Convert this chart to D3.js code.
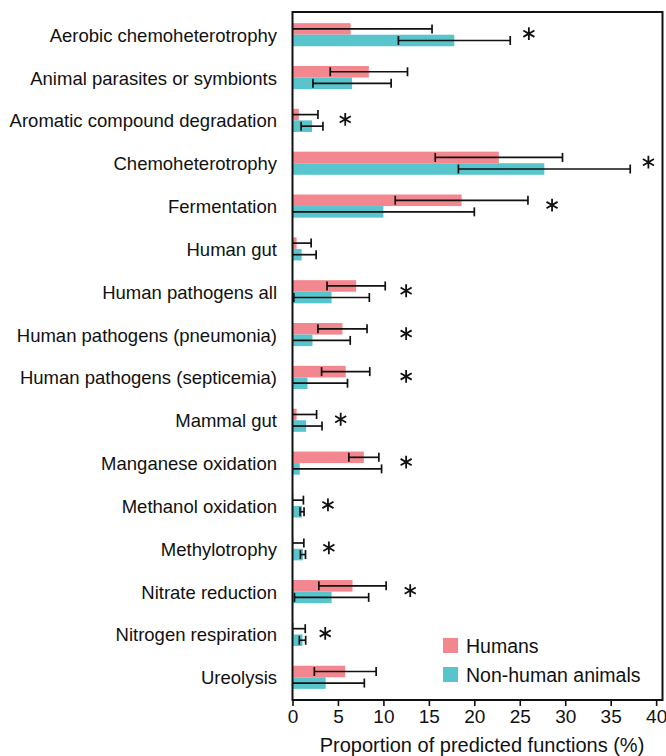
<!DOCTYPE html>
<html>
<head>
<meta charset="utf-8">
<script src="https://cdn.jsdelivr.net/npm/d3@7"></script>
<style>
  body { margin: 0; background: #fff; }
  text { font-family: "Liberation Sans", Arial, sans-serif; fill: #111; }
</style>
</head>
<body>
<svg id="chart" width="666" height="756"></svg>
<script>
var categories = ["Aerobic chemoheterotrophy", "Animal parasites or symbionts", "Aromatic compound degradation",
  "Chemoheterotrophy", "Fermentation", "Human gut", "Human pathogens all", "Human pathogens (pneumonia)",
  "Human pathogens (septicemia)", "Mammal gut", "Manganese oxidation", "Methanol oxidation",
  "Methylotrophy", "Nitrate reduction", "Nitrogen respiration", "Ureolysis"];

var humansMean = [6.4, 8.4, 0.7, 22.7, 18.6, 0.45, 7.0, 5.5, 5.85, 0.45, 7.85, 0.1, 0.1, 6.6, 0.15, 5.8];
var humansSd   = [8.95, 4.25, 2.1, 7.0, 7.3, 1.6, 3.2, 2.7, 2.65, 2.2, 1.65, 1.1, 1.15, 3.7, 1.25, 3.4];
var animalsMean = [17.8, 6.55, 2.15, 27.7, 10.0, 1.0, 4.3, 2.2, 1.65, 1.5, 0.8, 1.05, 1.15, 4.3, 1.1, 3.65];
var animalsSd   = [6.15, 4.3, 1.2, 9.45, 10.0, 1.6, 4.15, 4.15, 4.4, 1.75, 9.0, 0.22, 0.28, 4.08, 0.35, 4.25];

// asterisk positions (x in % units) for significant differences, null = none
var starX = [26.0, null, 5.8, 39.15, 28.55, null, 12.5, 12.5, 12.5, 5.3, 12.5, 3.9, 4.0, 12.95, 3.6, null];

var groups = ["Humans", "Non-human animals"];
var colors = ["#f3878f", "#58c5cd"];
var xTicks = [0, 5, 10, 15, 20, 25, 30, 35, 40];

var svg = d3.select("#chart");
var plotL = 292.5, plotR = 662.5, plotT = 12, plotB = 700;

var x = d3.scaleLinear().domain([0, 40.7]).range([plotL, plotR]);
var y = d3.scaleBand().domain(categories).range([plotT, plotB]).paddingInner(0.46).paddingOuter(0.26);
var sub = d3.scaleBand().domain(groups).range([0, y.bandwidth()]);

var series = [
  {name: groups[0], mean: humansMean, sd: humansSd},
  {name: groups[1], mean: animalsMean, sd: animalsSd}
];

var rows = [];
series.forEach(function(s, si) {
  categories.forEach(function(c, i) {
    rows.push({cat: c, group: s.name, si: si, mean: s.mean[i], sd: s.sd[i]});
  });
});

// bars
svg.append("g").selectAll("rect")
  .data(rows)
  .enter().append("rect")
  .attr("x", x(0))
  .attr("y", function(d) { return y(d.cat) + sub(d.group); })
  .attr("width", function(d) { return x(d.mean) - x(0); })
  .attr("height", sub.bandwidth())
  .attr("fill", function(d) { return colors[d.si]; });

// error bars
var capH = 9;
var eb = svg.append("g").attr("stroke", "#111").attr("stroke-width", 1.7).attr("fill", "none");
rows.forEach(function(d) {
  var cy = y(d.cat) + sub(d.group) + sub.bandwidth() / 2;
  var lo = d.mean - d.sd, hi = d.mean + d.sd;
  var x0 = x(Math.max(0, lo)), x1 = x(hi);
  eb.append("line").attr("x1", x0).attr("x2", x1).attr("y1", cy).attr("y2", cy);
  eb.append("line").attr("x1", x1).attr("x2", x1).attr("y1", cy - capH / 2).attr("y2", cy + capH / 2);
  if (lo > 0) {
    eb.append("line").attr("x1", x0).attr("x2", x0).attr("y1", cy - capH / 2).attr("y2", cy + capH / 2);
  }
});

// asterisks
var star = d3.symbol().type(d3.symbolAsterisk).size(115);
svg.append("g").selectAll("path")
  .data(categories.map(function(c, i) { return {cat: c, sx: starX[i]}; }).filter(function(d) { return d.sx != null; }))
  .enter().append("path")
  .attr("d", star)
  .attr("transform", function(d) { return "translate(" + x(d.sx) + "," + (y(d.cat) + y.bandwidth() / 2 - 1) + ")"; })
  .attr("stroke", "#111")
  .attr("stroke-width", 1.8)
  .attr("fill", "none");

// frame
svg.append("rect")
  .attr("x", plotL).attr("y", plotT)
  .attr("width", plotR - plotL).attr("height", plotB - plotT)
  .attr("fill", "none").attr("stroke", "#111").attr("stroke-width", 2);

// x axis
var xAxis = svg.append("g")
  .attr("transform", "translate(0," + plotB + ")")
  .call(d3.axisBottom(x).tickValues(xTicks).tickSize(6).tickPadding(4).tickSizeOuter(0));
xAxis.select(".domain").remove();
xAxis.selectAll("line").attr("stroke", "#111").attr("stroke-width", 1.6);
xAxis.selectAll("text").style("font-size", "19px").attr("fill", "#111");

svg.append("text")
  .attr("x", 482).attr("y", 752)
  .attr("text-anchor", "middle")
  .style("font-size", "20px")
  .text("Proportion of predicted functions (%)");

// category labels
svg.append("g").selectAll("text")
  .data(categories)
  .enter().append("text")
  .attr("x", 277)
  .attr("y", function(d) { return y(d) + y.bandwidth() / 2; })
  .attr("dy", "0.38em")
  .attr("text-anchor", "end")
  .style("font-size", "18.5px")
  .text(function(d) { return d; });

// legend
var legend = svg.append("g").attr("transform", "translate(443,638)");
groups.forEach(function(g, i) {
  legend.append("rect").attr("x", 0).attr("y", i * 29).attr("width", 15).attr("height", 15).attr("fill", colors[i]);
  legend.append("text").attr("x", 23).attr("y", i * 29 + 7.5).attr("dy", "0.36em")
    .style("font-size", "19.5px").text(g);
});
</script>
</body>
</html>
